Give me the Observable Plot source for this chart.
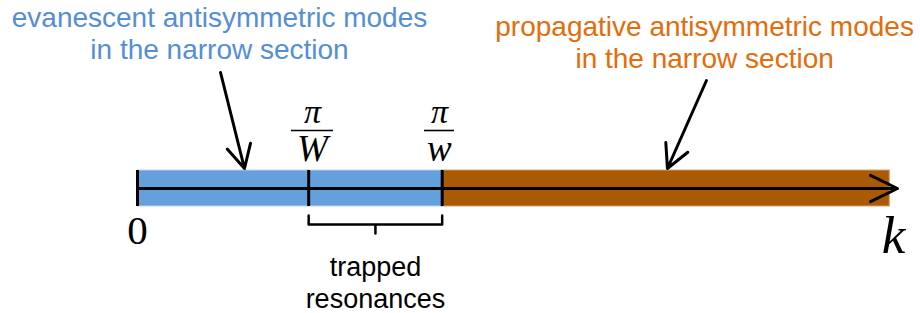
<!DOCTYPE html>
<html>
<head>
<meta charset="utf-8">
<script src="https://cdn.jsdelivr.net/npm/d3@7"></script>
<script src="https://cdn.jsdelivr.net/npm/@observablehq/plot@0.6"></script>
<style>
  html, body { margin: 0; padding: 0; background: #fff; }
  #chart svg { display: block; }
</style>
</head>
<body>
<div id="chart"></div>
<script>
// ---- data (k axis in units of π/W) ----
const bandStart = [0, 1, 1.78];
const bandEnd   = [1, 1.78, 4.395];
const bandMode  = ["evanescent", "evanescent", "propagative"];
const tickK     = [0, 1, 1.78];
const fracK     = [1.022, 1.764];
const fracNum   = ["π", "π"];
const fracDen   = ["W", "w"];
const axisEnd   = 4.44;
const modeLabels = [
  "evanescent antisymmetric modes\nin the narrow section",
  "propagative antisymmetric modes\nin the narrow section"
];
const modeLabelK = [0.479, 3.313];
const pointerFromK = [0.485, 3.324];
const pointerToK   = [0.625, 3.096];
const braceLabel = "trapped\nresonances";

// ---- layout helpers ----
const W = 920, H = 313;
const x0px = 137, x1px = 897;
const ppu = (x1px - x0px) / axisEnd;          // px per k-unit
const yPx = 18;                                // px per y-unit
const axisY = 188;
const yDom = [-(H - axisY) / yPx, axisY / yPx];
const py = p => (axisY - p) / yPx;             // pixel row -> y value

const bands = bandStart.map((s, i) => ({s, e: bandEnd[i], mode: bandMode[i]}));
const ticks = tickK.map(k => ({k}));
const fracs = fracK.map((k, i) => ({k, num: fracNum[i], den: fracDen[i], hw: (i === 0 ? 21 : 15) / ppu}));
const modes = modeLabels.map((t, i) => ({t, k: modeLabelK[i], mode: i === 0 ? "evanescent" : "propagative",
  by: i === 0 ? py(58) : py(67), lh: i === 0 ? 1.11 : 1.14}));
const pointers = pointerFromK.map((k, i) => ({x1: k, y1: i === 0 ? py(72) : py(80), x2: pointerToK[i], y2: py(168)}));
const bL = tickK[1], bR = tickK[2], bM = (bL + bR) / 2;
const brace = [[bL, py(215)], [bL, py(224)], [bM, py(224)], [bM, py(233)], [bM, py(224)], [bR, py(224)], [bR, py(215)]]
  .map(([k, y]) => ({k, y}));

const serif = "'Liberation Serif', 'DejaVu Serif', serif";
const sans = "'Liberation Sans', Arial, sans-serif";

const chart = Plot.plot({
  width: W, height: H,
  margin: 0,
  x: {domain: [0, axisEnd], range: [x0px, x1px], axis: null},
  y: {domain: yDom, range: [H, 0], axis: null},
  color: {domain: ["evanescent", "propagative"], range: ["#64A0DC", "#AA5A05"]},
  style: {background: "#fff"},
  marks: [
    Plot.rect(bands, {x1: "s", x2: "e", y1: -1, y2: 1, fill: "mode", stroke: d => d.mode === "evanescent" ? "#B9D3F0" : "#D8A070", strokeWidth: 1}),
    Plot.ruleX(ticks, {x: "k", y1: -1, y2: 1, stroke: "#000", strokeWidth: 3}),
    Plot.arrow([{a: 0, b: axisEnd}], {x1: "a", x2: "b", y1: 0, y2: 0, stroke: "#000", strokeWidth: 3, headLength: 15, headAngle: 52}),
    // fractions
    Plot.text(fracs, {x: "k", y: py(122), text: "num", fontFamily: serif, fontStyle: "italic", fontSize: 34, lineAnchor: "bottom", fill: "#000"}),
    Plot.ruleY(fracs, {y: py(130), x1: d => d.k - d.hw, x2: d => d.k + d.hw, stroke: "#000", strokeWidth: 1.6}),
    Plot.text(fracs, {x: "k", y: py(160), text: "den", fontFamily: serif, fontStyle: "italic", fontSize: 37, lineAnchor: "bottom", fill: "#000"}),
    // 0 and k
    Plot.text(["0"], {x: 0, y: py(243), text: d => d, fontFamily: serif, fontSize: 41, lineAnchor: "bottom", fill: "#000"}),
    Plot.text(["k"], {x: 4.417, y: py(252), text: d => d, fontFamily: serif, fontStyle: "italic", fontSize: 53, lineAnchor: "bottom", fill: "#000"}),
    // brace
    Plot.line(brace, {x: "k", y: "y", stroke: "#000", strokeWidth: 2.5, strokeLinejoin: "round", curve: "linear"}),
    Plot.text([braceLabel], {x: bM, y: py(307), text: d => d, fontFamily: sans, fontSize: 27, lineHeight: 1.18, lineAnchor: "bottom", fill: "#000"}),
    // mode labels
    Plot.text(modes, {x: "k", y: "by", text: "t", fontFamily: sans, fontSize: 28, lineHeight: 1.12, lineAnchor: "bottom",
      fill: d => d.mode === "evanescent" ? "#558ED5" : "#E46C0A"}),
    Plot.arrow(pointers, {x1: "x1", y1: "y1", x2: "x2", y2: "y2", stroke: "#000", strokeWidth: 3, headLength: 13, headAngle: 55})
  ]
});
document.getElementById("chart").append(chart);
</script>
</body>
</html>
